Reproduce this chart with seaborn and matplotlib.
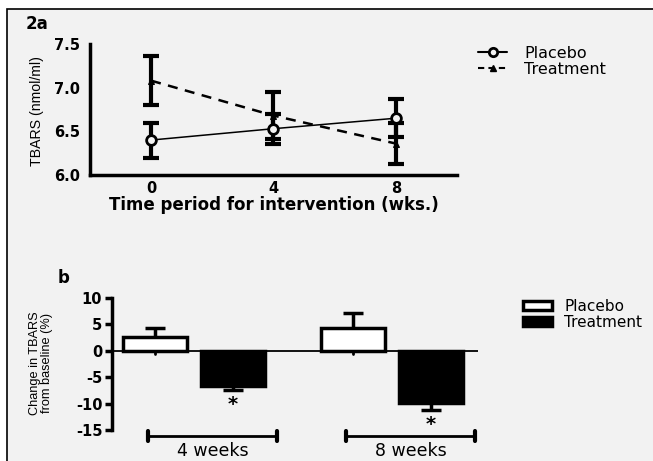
import numpy as np
import pandas as pd
import matplotlib
matplotlib.use('Agg')
import matplotlib.pyplot as plt
import seaborn as sns
from matplotlib.patches import Patch, Rectangle
from matplotlib.lines import Line2D

# panel a: TBARS over time
weeks = [0, 4, 8]
placebo_mean = [6.40, 6.53, 6.65]
placebo_sem = [0.20, 0.17, 0.22]
treatment_mean = [7.08, 6.68, 6.36]
treatment_sem = [0.28, 0.27, 0.23]

# panel b: % change from baseline
periods = ['4 weeks', '8 weeks']
groups = ['Placebo', 'Treatment']
change_placebo = [2.6, 4.3]
change_placebo_err = [1.7, 2.9]
change_treatment = [-6.7, -9.9]
change_treatment_err = [0.7, 1.3]

bg = '#f2f2f2'
sns.set_theme(style='white')
plt.rcParams['font.family'] = ['DejaVu Sans']
plt.rcParams['axes.unicode_minus'] = False
plt.rcParams['text.color'] = 'black'
plt.rcParams['xtick.color'] = 'black'
plt.rcParams['ytick.color'] = 'black'
plt.rcParams['axes.labelcolor'] = 'black'
narrow = ['Liberation Sans Narrow', 'Liberation Sans', 'DejaVu Sans']

fig = plt.figure(figsize=(6.53, 4.61), dpi=100, facecolor='white')
# grey panel with a black frame (top and left only visible)
fig.patches.append(Rectangle((7 / 653, -0.1), 1.2, 1.1 - 9 / 461, transform=fig.transFigure,
                             facecolor=bg, edgecolor='black', linewidth=1.2, zorder=-5))

# ---------- panel a ----------
ax1 = fig.add_axes([0.1378, 0.6204, 0.562, 0.2842])
ax1.set_facecolor('none')
df_a = pd.DataFrame({'week': weeks * 2,
                     'tbars': placebo_mean + treatment_mean,
                     'group': ['Placebo'] * 3 + ['Treatment'] * 3})
ax1.errorbar(weeks, placebo_mean, yerr=placebo_sem, fmt='none', ecolor='black',
             elinewidth=3, capsize=6, capthick=3, zorder=2)
ax1.errorbar(weeks, treatment_mean, yerr=treatment_sem, fmt='none', ecolor='black',
             elinewidth=3, capsize=6, capthick=3, zorder=2)
sns.lineplot(data=df_a[df_a.group == 'Placebo'], x='week', y='tbars', ax=ax1,
             color='black', linewidth=1.1, marker='o', markersize=7,
             markerfacecolor=bg, markeredgecolor='black', markeredgewidth=2, zorder=3)
sns.lineplot(data=df_a[df_a.group == 'Treatment'], x='week', y='tbars', ax=ax1,
             color='black', linewidth=1.8, linestyle=(0, (4, 3)), marker='^',
             markersize=5, markerfacecolor='black', markeredgecolor='black', zorder=3)
ax1.set_xlim(-2, 10)
ax1.set_ylim(6.0, 7.5)
ax1.set_xticks(weeks)
ax1.set_yticks([6.0, 6.5, 7.0, 7.5])
ax1.set_yticklabels(['6.0', '6.5', '7.0', '7.5'])
ax1.set_xlabel('Time period for intervention (wks.)', fontsize=12, fontweight='bold',
               labelpad=0)
ax1.set_ylabel('')
for s in ['top', 'right']:
    ax1.spines[s].set_visible(False)
for s in ['left', 'bottom']:
    ax1.spines[s].set_linewidth(2.5)
    ax1.spines[s].set_color('black')
ax1.tick_params(axis='both', direction='out', length=5, width=2.5, color='black',
                labelsize=10.5, pad=2)
ax1.tick_params(axis='x', length=3, pad=1)
for t in ax1.get_xticklabels() + ax1.get_yticklabels():
    t.set_fontweight('bold')
ax1.grid(False)
fig.text(37 / 653, 1 - 111 / 461, 'TBARS (nmol/ml)', rotation=90, ha='center', va='center',
         fontsize=10.2, family=narrow)

leg_a = [Line2D([0], [0], color='black', lw=1.5, marker='o', markersize=6,
                markerfacecolor=bg, markeredgewidth=2),
         Line2D([0], [0], color='black', lw=1.5, linestyle=(0, (3, 2)), marker='^',
                markersize=5)]
fig.legend(leg_a, groups, loc='upper left', bbox_to_anchor=(0.72, 0.918), frameon=False,
           fontsize=11.5, handlelength=1.8, handletextpad=1.1, labelspacing=0.05,
           borderpad=0)

fig.text(26 / 653, 1 - 24 / 461, '2a', fontsize=12, fontweight='bold', va='center')

# ---------- panel b ----------
ax2 = fig.add_axes([0.1715, 0.0672, 0.5605, 0.2863])
ax2.set_facecolor('none')
df_b = pd.DataFrame({'period': periods * 2,
                     'group': ['Placebo'] * 2 + ['Treatment'] * 2,
                     'change': change_placebo + change_treatment,
                     'err': change_placebo_err + change_treatment_err})
sns.barplot(data=df_b, x='period', y='change', hue='group', hue_order=groups,
            palette={'Placebo': 'white', 'Treatment': 'black'}, errorbar=None,
            width=0.79, gap=0.19, edgecolor='black', linewidth=2.5, legend=False,
            ax=ax2, zorder=3)
# error bars behind the bars, at the patch centres
for bar, (_, row) in zip(ax2.patches, df_b.iterrows()):
    xc = bar.get_x() + bar.get_width() / 2
    ax2.errorbar([xc], [row['change']], yerr=[row['err']], fmt='none', ecolor='black',
                 elinewidth=2.5, capsize=7, capthick=2.5, zorder=2)
    if row['change'] < 0:
        ax2.text(xc, row['change'] - row['err'] - 1.0, '*', ha='center', va='top',
                 fontsize=14, fontweight='bold')
    else:
        ax2.plot([xc, xc], [0, -0.6], color='black', lw=2, zorder=2)

ax2.axhline(0, color='black', lw=1.3, zorder=4)
ax2.set_xlim(-0.414, 1.434)
ax2.set_ylim(-15, 10)
ax2.set_yticks([10, 5, 0, -5, -10, -15])
ax2.set_xticks([])
ax2.set_xlabel('')
ax2.set_ylabel('')
for s in ['top', 'right', 'bottom']:
    ax2.spines[s].set_visible(False)
ax2.spines['left'].set_linewidth(2.5)
ax2.spines['left'].set_color('black')
ax2.tick_params(axis='y', direction='out', length=5, width=2.5, color='black',
                labelsize=10.5, pad=2, left=True)
for t in ax2.get_yticklabels():
    t.set_fontweight('bold')
ax2.grid(False)
fig.text(41 / 653, 1 - 363 / 461, 'Change in TBARS\nfrom baseline (%)', rotation=90,
         ha='center', va='center', fontsize=9.2, family=narrow, linespacing=1.05)

# period brackets under the axis
for i, p in enumerate(periods):
    y = -16.1
    x0, x1 = i - 0.23, i + 0.42
    ax2.plot([x0, x1], [y, y], color='black', lw=2, clip_on=False)
    ax2.plot([x0, x0], [y - 0.9, y + 0.9], color='black', lw=3, clip_on=False)
    ax2.plot([x1, x1], [y - 0.9, y + 0.9], color='black', lw=3, clip_on=False)
    ax2.text((x0 + x1) / 2, -17.2, p, ha='center', va='top', fontsize=12.5, clip_on=False)

leg_b = [Patch(facecolor='white', edgecolor='black', linewidth=2.5),
         Patch(facecolor='black', edgecolor='black', linewidth=2.5)]
fig.legend(leg_b, groups, loc='upper left', bbox_to_anchor=(0.789, 0.368), frameon=False,
           fontsize=11, handlelength=1.9, handleheight=0.6, handletextpad=0.8,
           labelspacing=0.05, borderpad=0)

fig.text(58 / 653, 1 - 278 / 461, 'b', fontsize=12, fontweight='bold', va='center')

fig.savefig('out.png', dpi=100, facecolor='white')
